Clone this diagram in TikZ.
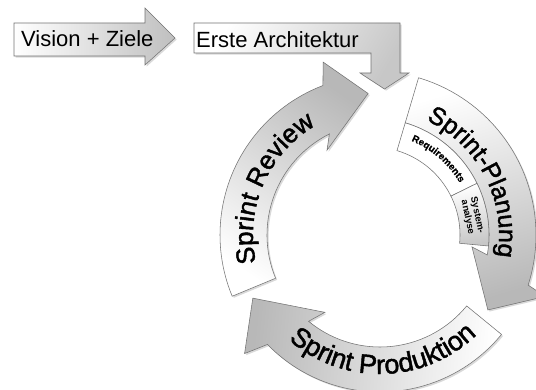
\documentclass[tikz,border=0pt]{standalone}
\usepackage{fontspec}
\setmainfont{Liberation Sans}
\newfontfamily\arcfont[FakeBold=1.6]{Liberation Sans}
\newfontfamily\smallfont[FakeBold=0.6]{Liberation Sans}
\usetikzlibrary{decorations.text,shadows}
\begin{document}
\begin{tikzpicture}[x=1pt,y=1pt,
  outl/.style={draw=black!55, line width=0.55pt},
  blockarrow/.style={outl, drop shadow={shadow xshift=1.6pt, shadow yshift=-1.6pt, opacity=0.3}},
  flat/.style={inner sep=0pt, anchor=base west, font=\fontsize{22}{22}\selectfont}
]
\useasboundingbox (0,0) rectangle (536,389);
\clip (0,0) rectangle (536,389);

% ---- straight arrows at the top ----
\path[blockarrow, top color=black!25, bottom color=white, shading angle=-90]
  (14,366) -- (145,366) -- (145,381) -- (175,351) -- (145,324) -- (145,333) -- (14,333) -- cycle;
\path[blockarrow, top color=black!22, bottom color=white, shading angle=-120]
  (194,366) -- (400,366) -- (400,316) -- (409,316) -- (384.5,300) -- (360,316)
  -- (371,316) -- (371,336) -- (194,336) -- cycle;
\node[flat] (vis) at (21,342) {Vision + Ziele};
\node[flat] (arch) at (196,341) {Erste Architektur};

% ---- Sprint Review and Sprint Produktion ----
\begin{scope}[shift={(380,154)}]
  \path[blockarrow, top color=black!28, bottom color=white, shading angle=-34]
    (202.5:160) arc[start angle=202.5, end angle=110.9, radius=160]
    -- (108.2:182) -- (94.8:142) -- (122:100) -- (116.6:113)
    arc[start angle=116.6, end angle=202.5, radius=113] -- cycle;
  \path[blockarrow, top color=black!28, bottom color=white, shading angle=84]
    (-39.3:157) arc[start angle=-39.3, end angle=-135.8, radius=157]
    -- (-138.8:180) -- (-153.6:142) -- (-125.5:95) -- (-129.6:112)
    arc[start angle=-129.6, end angle=-39.3, radius=112] -- cycle;
  \path[decorate, decoration={text along path, text align=center,
    text={|\arcfont\fontsize{26}{26}\selectfont|Sprint Review}}]
    (200:127) arc[start angle=200, end angle=113, radius=127];
  \path[decorate, decoration={text along path, text align=center,
    text={|\arcfont\fontsize{27}{27}\selectfont|Sprint Produktion}}]
    (-145:139) arc[start angle=-145, end angle=-32, radius=139];
\end{scope}

% ---- Sprint-Planung with its two inner steps ----
\begin{scope}[shift={(372,154)}]
  \path[blockarrow, top color=black!28, bottom color=white, shading angle=-163]
    (73.5:164) arc[start angle=73.5, end angle=-17.8, radius=164]
    -- (-19.5:184) -- (-32.9:138) -- (-6.8:100.7) -- (-9.8:117)
    arc[start angle=-9.8, end angle=73.5, radius=117] -- cycle;
  \path[outl, fill=white]
    (73.5:117) arc[start angle=73.5, end angle=26.2, radius=117]
    -- (26.2:88) arc[start angle=26.2, end angle=73.5, radius=88] -- cycle;
  \path[outl, top color=black!22, bottom color=white, shading angle=-170]
    (26.2:117) arc[start angle=26.2, end angle=-5.4, radius=117]
    -- (-5.4:88) arc[start angle=-5.4, end angle=26.2, radius=88] -- cycle;
  \path[decorate, decoration={text along path, text align=center,
    text={|\arcfont\fontsize{25}{25}\selectfont|Sprint-Planung}}]
    (75:127) arc[start angle=75, end angle=-20, radius=127];
  \path[decorate, decoration={text along path, text align=center,
    text={|\smallfont\bfseries\fontsize{9.8}{9.8}\selectfont|Requirements}}]
    (80:102) arc[start angle=80, end angle=18, radius=102];
  \node[rotate=-78, align=center, inner sep=0pt,
    font=\bfseries\fontsize{9.5}{8.6}\selectfont] (sys) at (10.5:102) {System-\\analyse};
\end{scope}
\end{tikzpicture}
\end{document}
